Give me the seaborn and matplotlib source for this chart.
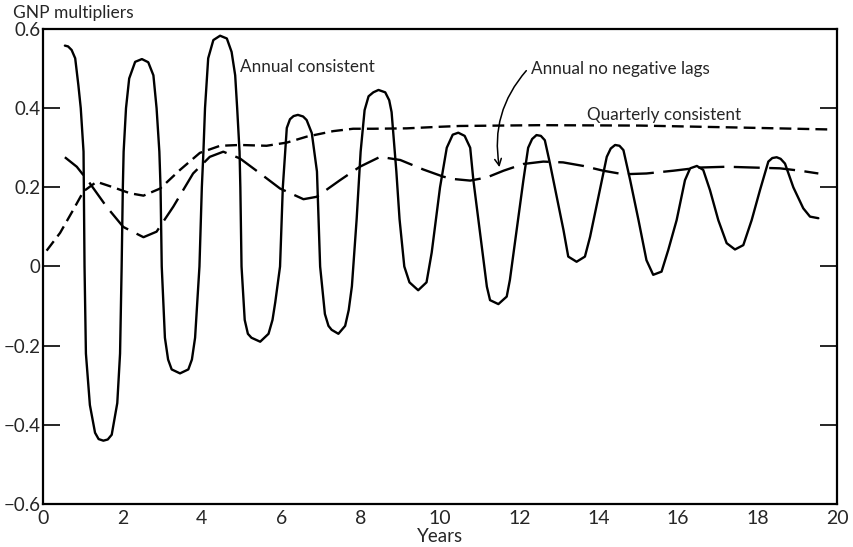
import matplotlib
matplotlib.use("Agg")
import matplotlib.pyplot as plt
import seaborn as sns
import pandas as pd

# ---- data ----
annual_x = [0.55, 0.63, 0.72, 0.81, 0.89, 0.95, 1.02, 1.045, 1.08, 1.18, 1.31, 1.40, 1.52, 1.63,
            1.73, 1.87, 1.94, 1.98, 2.01, 2.03, 2.09, 2.17, 2.32, 2.49, 2.65, 2.78, 2.86, 2.93,
            2.96, 2.99, 3.07, 3.15, 3.24, 3.45, 3.66, 3.75, 3.83, 3.94, 4.0, 4.04, 4.08, 4.16,
            4.29, 4.46, 4.63, 4.75, 4.84, 4.89, 4.95, 4.97, 5.0, 5.08, 5.16, 5.25, 5.47, 5.68,
            5.78, 5.85, 5.97, 6.04, 6.14, 6.22, 6.31, 6.42, 6.55, 6.64, 6.77, 6.9, 6.98, 7.1,
            7.19, 7.27, 7.44, 7.61, 7.7, 7.78, 7.9, 8.0, 8.1, 8.2, 8.32, 8.45, 8.62, 8.72, 8.78,
            8.9, 8.98, 9.1, 9.23, 9.45, 9.66, 9.79, 10.0, 10.17, 10.32, 10.46, 10.62, 10.76,
            10.84, 11.0, 11.18, 11.26, 11.47, 11.68, 11.76, 11.93, 12.1, 12.22, 12.32, 12.43,
            12.54, 12.64, 12.77, 12.94, 13.11, 13.23, 13.44, 13.65, 13.78, 13.99, 14.2, 14.3,
            14.41, 14.52, 14.62, 14.79, 15.0, 15.2, 15.37, 15.58, 15.75, 15.96, 16.17, 16.3,
            16.47, 16.63, 16.8, 17.01, 17.22, 17.43, 17.64, 17.85, 18.06, 18.27, 18.37, 18.48,
            18.58, 18.69, 18.9, 19.15, 19.32, 19.53]
annual_y = [0.558, 0.556, 0.547, 0.526, 0.458, 0.40, 0.29, 0.0, -0.22, -0.35, -0.42, -0.436,
            -0.44, -0.437, -0.425, -0.345, -0.22, 0.0, 0.2, 0.29, 0.40, 0.475, 0.517, 0.524,
            0.516, 0.483, 0.40, 0.29, 0.2, 0.0, -0.18, -0.235, -0.26, -0.27, -0.26, -0.235,
            -0.18, 0.0, 0.2, 0.29, 0.40, 0.526, 0.572, 0.583, 0.576, 0.542, 0.483, 0.40, 0.29,
            0.2, 0.0, -0.135, -0.17, -0.18, -0.19, -0.17, -0.135, -0.09, 0.0, 0.2, 0.35, 0.372,
            0.38, 0.383, 0.379, 0.37, 0.337, 0.24, 0.0, -0.12, -0.15, -0.16, -0.17, -0.15,
            -0.11, -0.05, 0.12, 0.29, 0.395, 0.43, 0.44, 0.446, 0.44, 0.42, 0.39, 0.24, 0.12,
            0.0, -0.04, -0.06, -0.04, 0.035, 0.2, 0.30, 0.333, 0.338, 0.33, 0.30, 0.218, 0.092,
            -0.051, -0.085, -0.095, -0.076, -0.034, 0.092, 0.218, 0.30, 0.322, 0.332, 0.33,
            0.319, 0.26, 0.176, 0.092, 0.025, 0.012, 0.025, 0.075, 0.176, 0.277, 0.298, 0.307,
            0.305, 0.294, 0.218, 0.117, 0.016, -0.021, -0.013, 0.042, 0.117, 0.218, 0.248,
            0.254, 0.244, 0.193, 0.117, 0.059, 0.043, 0.054, 0.117, 0.193, 0.265, 0.274, 0.276,
            0.272, 0.26, 0.20, 0.147, 0.126, 0.122]

quarterly_x = [0.09, 0.43, 0.76, 1.02, 1.35, 1.77, 2.19, 2.53, 2.95, 3.45, 3.95, 4.46, 4.96,
               5.63, 6.14, 6.64, 7.31, 7.81, 8.32, 9.16, 10.0, 10.5, 12.52, 15.04, 17.56, 19.9]
quarterly_y = [0.04, 0.085, 0.143, 0.19, 0.214, 0.20, 0.185, 0.179, 0.197, 0.244, 0.287, 0.305,
               0.307, 0.305, 0.313, 0.328, 0.342, 0.348, 0.348, 0.349, 0.353, 0.355, 0.357,
               0.356, 0.351, 0.346]

nolag_x = [0.55, 0.85, 1.18, 1.6, 2.02, 2.53, 2.86, 3.28, 3.78, 4.2, 4.54, 4.96, 5.47, 5.97,
           6.56, 6.89, 7.48, 7.98, 8.49, 9.0, 9.58, 10.08, 10.34, 10.76, 11.18, 11.6, 12.1,
           12.6, 13.1, 13.61, 14.11, 14.62, 15.2, 15.88, 16.55, 17.22, 17.89, 18.56, 19.07, 19.53]
nolag_y = [0.276, 0.252, 0.21, 0.151, 0.10, 0.074, 0.088, 0.151, 0.235, 0.277, 0.29, 0.273,
           0.235, 0.197, 0.17, 0.176, 0.218, 0.252, 0.277, 0.269, 0.245, 0.227, 0.221, 0.217,
           0.225, 0.242, 0.259, 0.265, 0.263, 0.254, 0.242, 0.233, 0.235, 0.242, 0.25, 0.252,
           0.25, 0.248, 0.242, 0.235]

x_ticks = list(range(0, 21))
x_ticklabels = [str(v) if v % 2 == 0 else "" for v in x_ticks]
y_ticks = [-0.6, -0.4, -0.2, 0, 0.2, 0.4, 0.6]
y_ticklabels = ["\u22120.6", "\u22120.4", "\u22120.2", "0", "0.2", "0.4", "0.6"]

# ---- drawing ----
sns.set_style("white")
plt.rcParams["font.family"] = ["Lato", "DejaVu Sans"]

fig = plt.figure(figsize=(8.54, 5.47), dpi=100)
ax = fig.add_axes([0.0504, 0.0786, 0.9297, 0.8684])

df_a = pd.DataFrame({"x": annual_x, "y": annual_y})
df_q = pd.DataFrame({"x": quarterly_x, "y": quarterly_y})
df_n = pd.DataFrame({"x": nolag_x, "y": nolag_y})

sns.lineplot(data=df_a, x="x", y="y", ax=ax, color="black", lw=1.7, estimator=None, sort=False)
sns.lineplot(data=df_q, x="x", y="y", ax=ax, color="black", lw=1.7, estimator=None, sort=False)
sns.lineplot(data=df_n, x="x", y="y", ax=ax, color="black", lw=1.7, estimator=None, sort=False)
lines = ax.get_lines()
for ln in lines:
    ln.set_solid_joinstyle("round")
    ln.set_dash_joinstyle("round")
lines[1].set_dashes([5, 2.6])
lines[2].set_dashes([11, 4])

ax.set_xlim(0, 20)
ax.set_ylim(-0.6, 0.6)
ax.set_xticks(x_ticks)
ax.set_xticklabels(x_ticklabels)
ax.set_yticks(y_ticks)
ax.set_yticklabels(y_ticklabels)
ax.tick_params(axis="x", direction="in", length=10, width=1.2, labelsize=14, pad=4, color="black")
ax.tick_params(axis="y", direction="in", length=12, width=1.2, labelsize=13.5, pad=2,
               right=True, left=True, color="black")
ax.set_xlabel("Years", fontsize=13.5, labelpad=1)
ax.set_ylabel("")
for s in ax.spines.values():
    s.set_visible(True)
    s.set_color("black")
    s.set_linewidth(1.6)

fig.text(0.015, 0.977, "GNP multipliers", fontsize=12.5, ha="left", va="center")

ax.text(4.96, 0.505, "Annual consistent", fontsize=12.3, ha="left", va="center")
ax.text(13.69, 0.383, "Quarterly consistent", fontsize=12.3, ha="left", va="center")
ax.text(12.29, 0.50, "Annual no negative lags", fontsize=12.3, ha="left", va="center")
ax.annotate("", xy=(11.51, 0.244), xytext=(12.22, 0.50),
            arrowprops=dict(arrowstyle="->", color="black", lw=1.1,
                            connectionstyle="arc3,rad=0.25", mutation_scale=12))

fig.savefig("out.png", dpi=100)
